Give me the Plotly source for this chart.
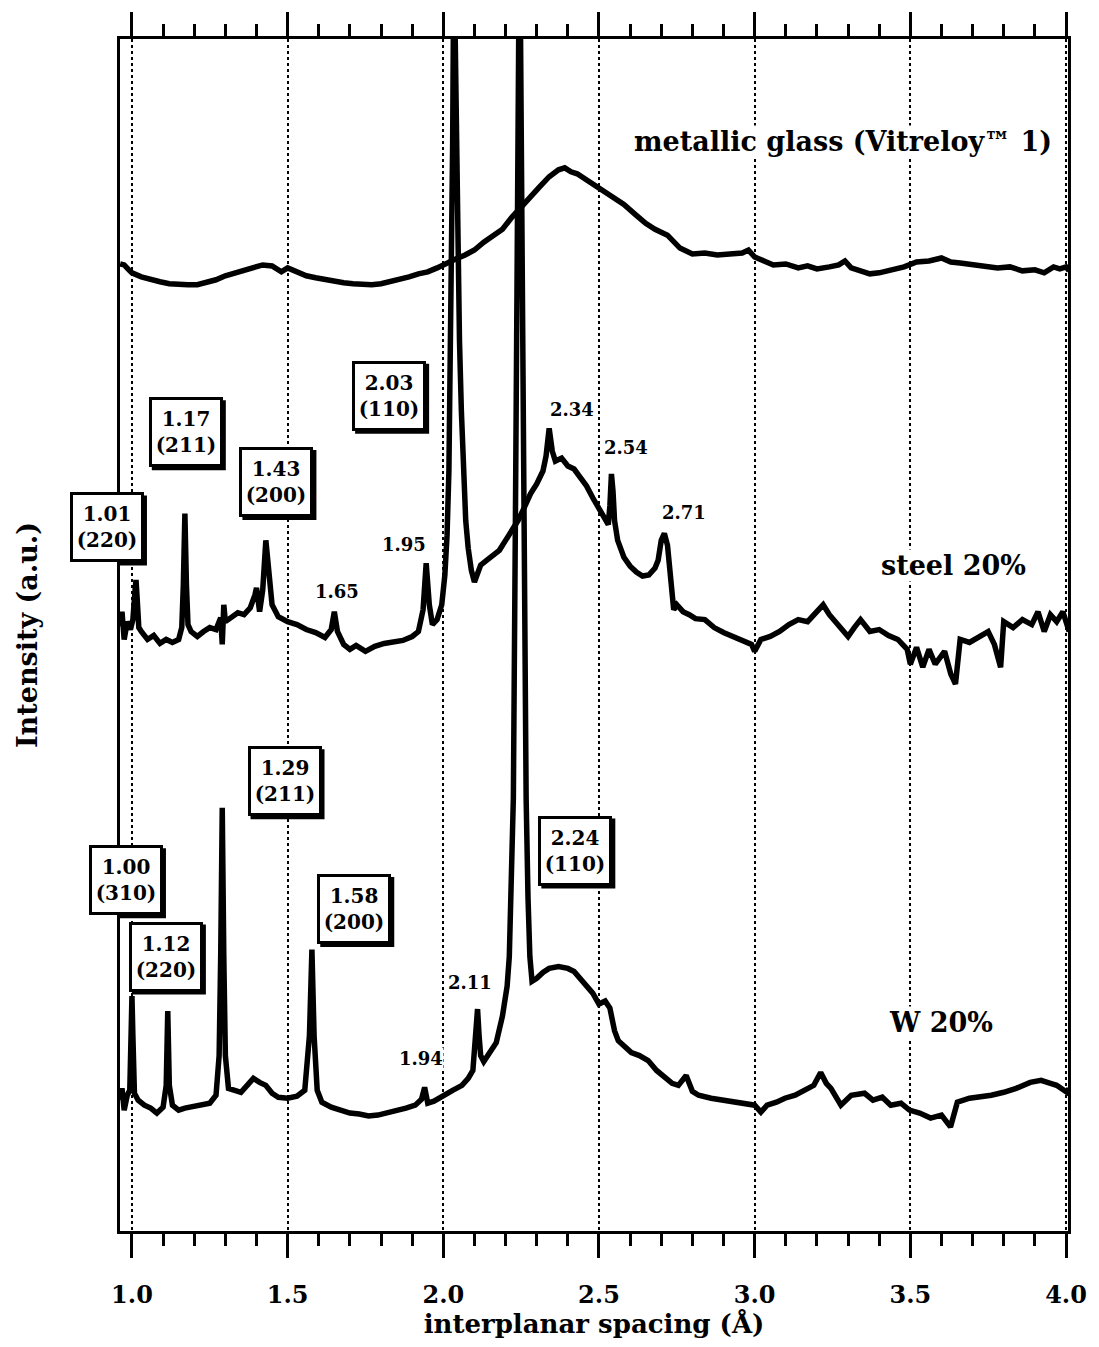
import plotly.graph_objects as go

# ---------------- data (interplanar spacing in Å, intensity in arbitrary units) -------------
glass_d = [0.962, 0.975, 0.99, 1.00, 1.03, 1.06, 1.09, 1.12, 1.15, 1.18, 1.21, 1.24, 1.27, 1.30,
           1.33, 1.36, 1.39, 1.42, 1.45, 1.48, 1.50, 1.53, 1.56, 1.59, 1.62, 1.65, 1.68, 1.71,
           1.74, 1.77, 1.80, 1.83, 1.86, 1.89, 1.92, 1.95, 1.98, 2.01, 2.04, 2.07, 2.10, 2.13,
           2.16, 2.19, 2.22, 2.25, 2.28, 2.31, 2.34, 2.37, 2.39, 2.41, 2.43, 2.46, 2.50, 2.54,
           2.58, 2.62, 2.65, 2.68, 2.72, 2.76, 2.80, 2.84, 2.88, 2.92, 2.96, 2.98, 3.00, 3.03,
           3.06, 3.10, 3.14, 3.17, 3.20, 3.24, 3.27, 3.29, 3.31, 3.34, 3.37, 3.40, 3.44, 3.48,
           3.52, 3.56, 3.60, 3.63, 3.66, 3.70, 3.74, 3.78, 3.82, 3.86, 3.90, 3.93, 3.96, 3.98,
           4.00, 4.01]
glass_i = [978, 977, 972, 969, 965, 962, 960, 958, 957, 957, 957, 959, 962, 966,
           969, 972, 975, 977, 976, 970, 974, 970, 966, 964, 962, 960, 959, 958,
           957, 957, 958, 960, 963, 965, 968, 970, 974, 979, 983, 987, 992, 1000,
           1007, 1013, 1025, 1036, 1045, 1056, 1066, 1073, 1075, 1071, 1069, 1063, 1055, 1047,
           1038, 1027, 1019, 1013, 1007, 994, 988, 989, 987, 988, 989, 992, 985, 981,
           977, 978, 974, 976, 973, 975, 977, 981, 974, 971, 968, 969, 972, 975,
           980, 981, 984, 980, 979, 977, 976, 974, 975, 971, 972, 969, 975, 973,
           975, 971]

steel_d = [0.962, 0.968, 0.975, 0.985, 0.995, 1.003, 1.010, 1.013, 1.017, 1.022, 1.03, 1.05,
           1.07, 1.09, 1.11, 1.13, 1.15, 1.16, 1.165, 1.170, 1.175, 1.18, 1.19, 1.21, 1.23,
           1.25, 1.27, 1.285, 1.290, 1.295, 1.30, 1.32, 1.34, 1.36, 1.38, 1.395, 1.400, 1.41,
           1.42, 1.43, 1.44, 1.45, 1.47, 1.50, 1.53, 1.56, 1.59, 1.62, 1.64, 1.65, 1.66, 1.68,
           1.70, 1.72, 1.75, 1.78, 1.81, 1.84, 1.87, 1.90, 1.92, 1.935, 1.945, 1.955, 1.965,
           1.98, 1.995, 2.005, 2.012, 2.018, 2.022, 2.026, 2.030, 2.034, 2.040, 2.046, 2.052,
           2.058, 2.064, 2.072, 2.08, 2.09, 2.10, 2.12, 2.14, 2.16, 2.18, 2.20, 2.22, 2.24,
           2.26, 2.28, 2.30, 2.32, 2.33, 2.34, 2.35, 2.36, 2.38, 2.40, 2.42, 2.44, 2.46, 2.48,
           2.50, 2.52, 2.530, 2.535, 2.540, 2.545, 2.55, 2.56, 2.58, 2.60, 2.62, 2.64, 2.66,
           2.68, 2.69, 2.70, 2.71, 2.72, 2.73, 2.74, 2.75, 2.77, 2.79, 2.81, 2.84, 2.87, 2.90,
           2.93, 2.96, 2.99, 3.00, 3.02, 3.05, 3.08, 3.11, 3.14, 3.17, 3.20, 3.22, 3.24, 3.27,
           3.30, 3.32, 3.34, 3.37, 3.40, 3.43, 3.46, 3.49, 3.50, 3.52, 3.54, 3.56, 3.58, 3.61,
           3.63, 3.645, 3.66, 3.69, 3.72, 3.75, 3.77, 3.79, 3.80, 3.83, 3.86, 3.89, 3.91, 3.93,
           3.95, 3.97, 3.99, 4.01]
steel_i = [612, 627, 599, 617, 609, 619, 649, 659, 639, 611, 607, 599,
           603, 595, 599, 596, 599, 611, 654, 726, 654, 614, 607, 602, 607,
           611, 609, 621, 594, 634, 617, 622, 626, 624, 631, 644, 651, 627,
           649, 699, 659, 634, 622, 617, 614, 609, 606, 601, 609, 627, 607, 594,
           589, 593, 587, 592, 595, 596, 598, 602, 607, 629, 676, 634, 614,
           619, 634, 664, 704, 769, 850, 950, 1100, 1300, 1130, 1000, 900,
           830, 779, 719, 691, 669, 657, 674, 679, 684, 689, 699, 709, 719,
           732, 746, 756, 769, 784, 812, 789, 779, 782, 774, 771, 762, 754, 742,
           732, 722, 715, 734, 766, 749, 719, 699, 682, 673, 667, 663, 664,
           671, 679, 699, 706, 694, 659, 629, 634, 627, 624, 620, 619, 611, 606,
           602, 599, 594, 587, 599, 602, 607, 614, 619, 617, 627, 634, 624, 614,
           602, 611, 619, 607, 609, 603, 599, 589, 574, 591, 571, 589, 574, 587,
           564, 554, 599, 596, 601, 607, 594, 571, 617, 611, 619, 614, 627, 607,
           624, 617, 627, 607]

w_d = [0.962, 0.968, 0.975, 0.985, 0.993, 0.997, 1.000, 1.003, 1.008, 1.02, 1.04, 1.06, 1.08,
       1.10, 1.11, 1.115, 1.12, 1.13, 1.15, 1.17, 1.19, 1.22, 1.25, 1.27, 1.28, 1.285, 1.290,
       1.295, 1.30, 1.31, 1.33, 1.35, 1.37, 1.39, 1.41, 1.43, 1.45, 1.47, 1.50, 1.53, 1.555,
       1.57, 1.578, 1.585, 1.595, 1.61, 1.64, 1.67, 1.70, 1.73, 1.76, 1.79, 1.82, 1.85, 1.88,
       1.91, 1.93, 1.94, 1.95, 1.97, 2.00, 2.03, 2.06, 2.08, 2.095, 2.105, 2.11, 2.115, 2.12,
       2.13, 2.15, 2.17, 2.19, 2.205, 2.212, 2.218, 2.225, 2.232, 2.238, 2.245, 2.252, 2.258,
       2.266, 2.272, 2.278, 2.285, 2.30, 2.32, 2.34, 2.37, 2.40, 2.42, 2.44, 2.46, 2.48, 2.50,
       2.52, 2.535, 2.55, 2.562, 2.58, 2.604, 2.63, 2.658, 2.685, 2.713, 2.735, 2.755, 2.78,
       2.80, 2.82, 2.86, 2.905, 2.95, 3.00, 3.02, 3.04, 3.07, 3.097, 3.13, 3.161, 3.19, 3.212,
       3.23, 3.245, 3.277, 3.31, 3.353, 3.38, 3.41, 3.437, 3.47, 3.497, 3.53, 3.565, 3.60,
       3.629, 3.651, 3.69, 3.725, 3.76, 3.80, 3.84, 3.885, 3.92, 3.95, 3.97, 4.003, 4.01]
w_i = [134, 146, 124, 139, 144, 199, 239, 199, 141, 134, 129, 126, 121,
       127, 149, 224, 149, 129, 124, 126, 127, 129, 131, 139, 179, 279, 429,
       279, 179, 146, 144, 142, 149, 156, 152, 149, 141, 137, 136, 138, 144,
       199, 286, 199, 144, 132, 127, 124, 121, 120, 118, 119, 121, 123, 126,
       129, 135, 147, 131, 133, 139, 144, 149, 156, 164, 209, 226, 199, 179,
       173, 182, 192, 219, 249, 279, 339, 439, 739, 1039, 1339, 1039, 739,
       439, 339, 279, 254, 257, 263, 267, 269, 267, 264, 257, 249, 242, 231,
       234, 227, 204, 194, 189, 182, 179, 174, 164, 156, 151, 149, 159,
       143, 139, 136, 134, 132, 129, 122, 129, 132, 136, 139, 144, 149, 162,
       151, 146, 129, 139, 141, 134, 137, 129, 131, 124, 121, 116, 119,
       107, 132, 136, 137, 139, 142, 146, 152, 154, 151, 149, 142, 146]

major_ticks = [1.0, 1.5, 2.0, 2.5, 3.0, 3.5, 4.0]
major_tick_text = ["1.0", "1.5", "2.0", "2.5", "3.0", "3.5", "4.0"]

# (text, d, intensity, xshift) for boxed peak labels
steel_boxes = [("1.01<br>(220)", 1.0, 712, -25), ("1.17<br>(211)", 1.173, 808, 0),
               ("1.43<br>(200)", 1.464, 758, 0), ("2.03<br>(110)", 1.826, 845, 0)]
w_boxes = [("1.00<br>(310)", 1.0, 356, -6), ("1.12<br>(220)", 1.109, 279, 0),
           ("1.29<br>(211)", 1.49, 456, 0), ("1.58<br>(200)", 1.714, 327, 0),
           ("2.24<br>(110)", 2.424, 386, 0)]
plain_labels = [("2.34", 2.414, 831), ("2.54", 2.587, 793), ("2.71", 2.773, 727),
                ("1.95", 1.874, 695), ("1.65", 1.659, 647), ("2.11", 2.085, 253),
                ("1.94", 1.928, 176)]
series_labels = [("metallic glass (Vitreloy™ 1)", 3.285, 1102),
                 ("steel 20%", 3.64, 674), ("W 20%", 3.598, 212)]

XR = [0.9616, 4.0064]
YR = [2, 1205]
FONT = "DejaVu Serif"
BOX_W, BOX_H, SHADOW = 66, 62, 3

fig = go.Figure()
for d, i, name in [(glass_d, glass_i, "metallic glass"), (steel_d, steel_i, "steel 20%"),
                   (w_d, w_i, "W 20%")]:
    fig.add_trace(go.Scatter(x=d, y=i, mode="lines", name=name,
                             line=dict(color="black", width=5.5), showlegend=False))

ann, shapes = [], []
for txt, x, y, xs in steel_boxes + w_boxes:
    half_w, half_h = BOX_W / 2 + 4, BOX_H / 2 + 4
    shapes.append(dict(type="rect", xref="x", yref="y", xsizemode="pixel", ysizemode="pixel",
                       xanchor=x, yanchor=y, layer="above",
                       x0=xs - half_w + SHADOW, x1=xs + half_w + SHADOW,
                       y0=-half_h - SHADOW, y1=half_h - SHADOW,
                       fillcolor="black", line=dict(width=0)))
    ann.append(dict(x=x, y=y, xref="x", yref="y", text=txt, showarrow=False,
                    xshift=xs, width=BOX_W, height=BOX_H, borderpad=1,
                    borderwidth=3, bordercolor="black", bgcolor="white",
                    font=dict(family=FONT, size=20, color="black", weight="bold")))
for txt, x, y in plain_labels:
    ann.append(dict(x=x, y=y, xref="x", yref="y", text=txt, showarrow=False,
                    bgcolor="white", borderpad=0,
                    font=dict(family=FONT, size=18, color="black", weight="bold")))
for txt, x, y in series_labels:
    ann.append(dict(x=x, y=y, xref="x", yref="y", text=txt, showarrow=False,
                    bgcolor="white", borderpad=0,
                    font=dict(family=FONT, size=27, color="black", weight="bold")))

fig.update_layout(
    width=1099, height=1347,
    margin=dict(l=120, r=28, t=34, b=110),
    paper_bgcolor="white", plot_bgcolor="white",
    annotations=ann, shapes=shapes,
    xaxis=dict(range=XR, tickvals=major_ticks, ticktext=major_tick_text,
               ticks="outside", ticklen=24, tickwidth=3, tickcolor="black",
               minor=dict(dtick=0.1, tick0=1.0, ticks="outside", ticklen=12, tickwidth=3,
                          tickcolor="black", showgrid=False),
               showline=True, linewidth=3, linecolor="black", mirror="ticks",
               showgrid=True, griddash="dot", gridcolor="black", gridwidth=1.5,
               zeroline=False, ticklabelstandoff=16,
               tickfont=dict(family=FONT, size=24, color="black", weight="bold"),
               title=dict(text="interplanar spacing (Å)", standoff=8,
                          font=dict(family=FONT, size=26, color="black", weight="bold"))),
    yaxis=dict(range=YR, showticklabels=False, ticks="", showgrid=False, zeroline=False,
               showline=True, linewidth=3, linecolor="black", mirror=True,
               title=dict(text="Intensity (a.u.)", standoff=72,
                          font=dict(family=FONT, size=27, color="black", weight="bold"))),
)

fig.write_html("out.html")
